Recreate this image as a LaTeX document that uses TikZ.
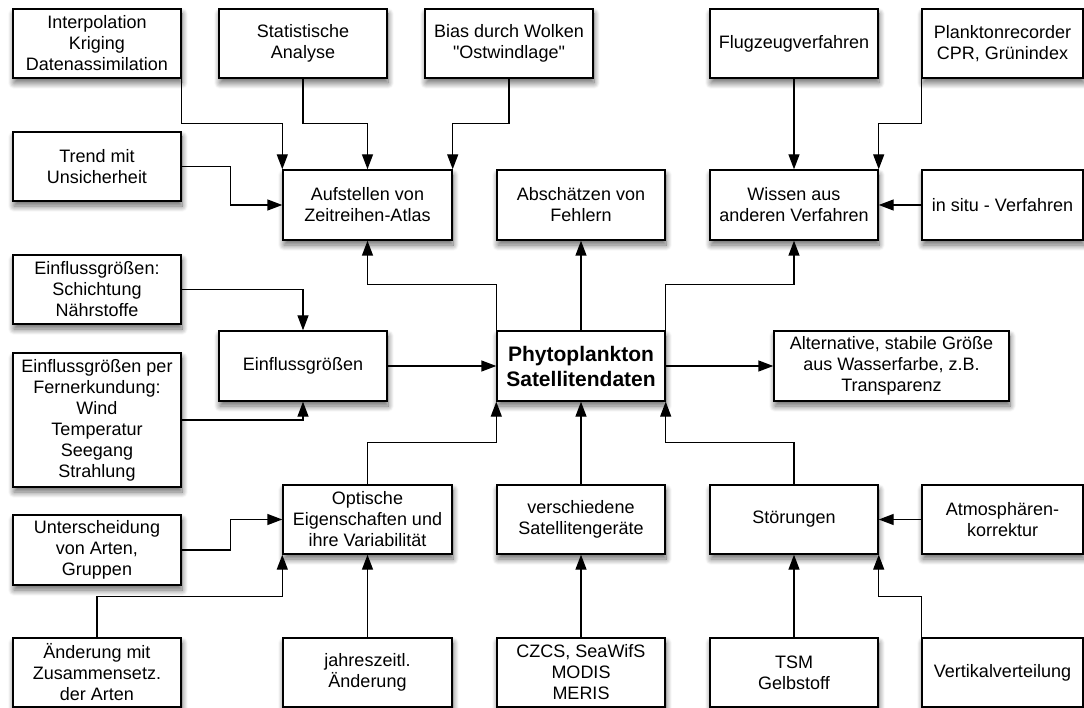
\documentclass[tikz,border=0pt]{standalone}
\usepackage{fontspec}
\setmainfont{Liberation Sans}
\usetikzlibrary{arrows.meta,shadows.blur}
\newcommand\straightquote{\XeTeXglyph\XeTeXcharglyph"22\relax}
\begin{document}
\begin{tikzpicture}[x=1pt,y=-1pt,
  box/.style={draw=black,line width=1.4pt,fill=white,inner sep=0pt,align=center,
    font=\fontsize{18}{21}\selectfont,
    blur shadow={shadow xshift=1pt,shadow yshift=-5pt,shadow blur radius=6pt,shadow blur steps=12,shadow opacity=60}},
  arr/.style={line width=1.4pt,-{Triangle[length=15pt,width=11pt]}}]
\useasboundingbox (0,0) rectangle (1084,708);
% row 1
\node[box,minimum width=168pt,minimum height=69pt] (interp) at (97,43.5) {Interpolation\\Kriging\\Datenassimilation};
\node[box,minimum width=168pt,minimum height=69pt] (stat) at (303,43.5) {Statistische\\Analyse};
\node[box,minimum width=168pt,minimum height=69pt] (bias) at (509,43.5) {Bias durch Wolken\\\straightquote Ostwindlage\straightquote};
\node[box,minimum width=168pt,minimum height=69pt] (flug) at (794,43.5) {Flugzeugverfahren};
\node[box,minimum width=161pt,minimum height=69pt] (plank) at (1002.5,43.5) {Planktonrecorder\\CPR, Grünindex};
% row 2
\node[box,minimum width=168pt,minimum height=69pt] (trend) at (97,166.5) {Trend mit\\Unsicherheit};
\node[box,minimum width=169pt,minimum height=70pt] (aufst) at (367.5,205) {Aufstellen von\\Zeitreihen-Atlas};
\node[box,minimum width=168pt,minimum height=70pt] (absch) at (581,205) {Abschätzen von\\Fehlern};
\node[box,minimum width=168pt,minimum height=70pt] (wissen) at (794,205) {Wissen aus\\anderen Verfahren};
\node[box,minimum width=161pt,minimum height=70pt] (insitu) at (1002.5,205) {in situ - Verfahren};
% row 3
\node[box,minimum width=168pt,minimum height=69pt] (schicht) at (97,289.5) {Einflussgrößen:\\Schichtung\\Nährstoffe};
\node[box,minimum width=168pt,minimum height=70pt] (einfl) at (303,366) {Einflussgrößen};
\node[box,minimum width=168pt,minimum height=70pt,font=\fontsize{21}{25}\selectfont\bfseries] (phyto) at (581,366) {Phytoplankton\\Satellitendaten};
\node[box,minimum width=235pt,minimum height=70pt] (alt) at (891.5,366) {Alternative, stabile Größe\\aus Wasserfarbe, z.B.\\Transparenz};
\node[box,minimum width=168pt,minimum height=134pt] (fern) at (97,420) {Einflussgrößen per\\Fernerkundung:\\Wind\\Temperatur\\Seegang\\Strahlung};
% row 4
\node[box,minimum width=168pt,minimum height=70pt] (unter) at (97,550) {Unterscheidung\\von Arten,\\Gruppen};
\node[box,minimum width=169pt,minimum height=69pt] (optik) at (367.5,519.5) {Optische\\Eigenschaften und\\ihre Variabilität};
\node[box,minimum width=168pt,minimum height=69pt] (versch) at (581,519.5) {verschiedene\\Satellitengeräte};
\node[box,minimum width=168pt,minimum height=69pt] (stoer) at (794,519.5) {Störungen};
\node[box,minimum width=161pt,minimum height=69pt] (atmo) at (1002.5,519.5) {Atmosphären-\\korrektur};
% row 5
\node[box,minimum width=168pt,minimum height=69pt] (aender) at (97,672.5) {Änderung mit\\Zusammensetz.\\der Arten};
\node[box,minimum width=169pt,minimum height=69pt] (jahr) at (367.5,672.5) {jahreszeitl.\\Änderung};
\node[box,minimum width=168pt,minimum height=69pt] (czcs) at (581,672.5) {CZCS, SeaWifS\\MODIS\\MERIS};
\node[box,minimum width=168pt,minimum height=69pt] (tsm) at (794,672.5) {TSM\\Gelbstoff};
\node[box,minimum width=161pt,minimum height=69pt] (vert) at (1002.5,672.5) {Vertikalverteilung};
% connectors
\draw[arr] (interp.south east) -- ++(0,45) -| (aufst.north west);
\draw[arr] (stat.south) -- ++(0,45) -| (aufst.north);
\draw[arr] (bias.south) -- ++(0,45) -| (aufst.north east);
\draw[arr] (trend.east) -- ++(49,0) |- (aufst.west);
\draw[arr] (flug.south) -- (wissen.north);
\draw[arr] (plank.south west) -- ++(0,45) -| (wissen.north east);
\draw[arr] (insitu.west) -- (wissen.east);
\draw[arr] (phyto.north west) -- ++(0,-46) -| (aufst.south);
\draw[arr] (phyto.north) -- (absch.south);
\draw[arr] (phyto.north east) -- ++(0,-46) -| (wissen.south);
\draw[arr] (einfl.east) -- (phyto.west);
\draw[arr] (phyto.east) -- (alt.west);
\draw[arr] (schicht.east) -| (einfl.north);
\draw[arr] (fern.east) -| (einfl.south);
\draw[arr] (optik.north) -- ++(0,-42) -| (phyto.south west);
\draw[arr] (versch.north) -- (phyto.south);
\draw[arr] (stoer.north) -- ++(0,-42) -| (phyto.south east);
\draw[arr] (unter.east) -- ++(49,0) |- (optik.west);
\draw[arr] (aender.north) -- ++(0,-41) -| (optik.south west);
\draw[arr] (jahr.north) -- (optik.south);
\draw[arr] (czcs.north) -- (versch.south);
\draw[arr] (tsm.north) -- (stoer.south);
\draw[arr] (vert.north west) -- ++(0,-41) -| (stoer.south east);
\draw[arr] (atmo.west) -- (stoer.east);
\end{tikzpicture}
\end{document}
